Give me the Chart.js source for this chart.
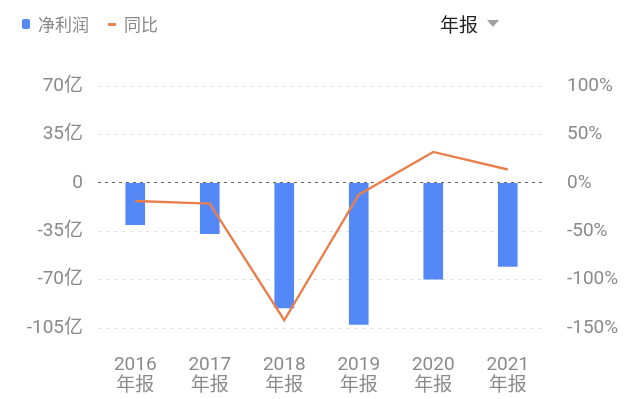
<!DOCTYPE html>
<html>
<head>
<meta charset="utf-8">
<script src="https://cdn.jsdelivr.net/npm/chart.js@4/dist/chart.umd.min.js"></script>
<style>
  html, body { margin: 0; padding: 0; background: #fff; }
  body { width: 640px; height: 399px; position: relative; overflow: hidden;
    font-family: "Noto Sans CJK SC", "Noto Sans", sans-serif; }
  #wrap { position: absolute; left: 0; top: 0; width: 640px; height: 399px; }
  .legend { position: absolute; top: 12px; left: 22px; font-size: 17px; line-height: 24px; color: #8a8a8a; display: flex; align-items: center; }
  .legend .sw-bar { width: 8px; height: 10px; background: #5588f7; border-radius: 2px; margin-right: 8px; }
  .legend .sw-line { width: 8px; height: 3px; background: #e8804e; border-radius: 1px; margin: 0 8px 0 19px; }
  .period { position: absolute; top: 11px; left: 440px; font-size: 19px; line-height: 26px; color: #222; display: flex; align-items: center; }
  .period .tri { width: 0; height: 0; border-left: 6.5px solid transparent; border-right: 6.5px solid transparent;
    border-top: 7px solid #a0a0a0; margin-left: 9px; margin-top: -2px; }
</style>
</head>
<body>
<div id="wrap"><canvas id="chart" width="640" height="399"></canvas></div>
<div class="legend"><span class="sw-bar"></span>净利润<span class="sw-line"></span>同比</div>
<div class="period">年报<span class="tri"></span></div>
<script>
const years = ['2016', '2017', '2018', '2019', '2020', '2021'];
const periodLabel = '年报';
// 净利润 (亿)
const netProfit = [-30.3, -36.8, -90.4, -102.5, -69.7, -60.5];
// 同比 (%)
const yoy = [-18.8, -21.5, -142, -12.2, 31.9, 13.7];
const leftTicks = [70, 35, 0, -35, -70, -105];
const rightTicks = [100, 50, 0, -50, -100, -150];

const tickFont = { family: 'Roboto, "Noto Sans CJK SC", sans-serif', size: 19 };

const ctx = document.getElementById('chart').getContext('2d');
new Chart(ctx, {
  data: {
    labels: years.map((y) => [y, periodLabel]),
    datasets: [
      {
        type: 'line',
        label: '同比',
        data: yoy,
        yAxisID: 'y1',
        borderColor: '#e8804e',
        borderWidth: 2.4,
        pointRadius: 0,
        tension: 0,
        order: 0,
      },
      {
        type: 'bar',
        label: '净利润',
        data: netProfit,
        yAxisID: 'y',
        backgroundColor: '#5588f7',
        barThickness: 19,
        order: 1,
      },
    ],
  },
  options: {
    responsive: false,
    animation: false,
    layout: { padding: { top: 86, bottom: 0, left: 0, right: 0 } },
    plugins: { legend: { display: false }, tooltip: { enabled: false } },
    scales: {
      x: {
        grid: { display: false },
        border: { display: false },
        afterFit: (scale) => { scale.height = 71; },
        ticks: { color: '#8a8a8a', font: { ...tickFont, lineHeight: 1.1 }, padding: 19, maxRotation: 0 },
      },
      y: {
        position: 'left',
        min: leftTicks[leftTicks.length - 1],
        max: leftTicks[0],
        afterBuildTicks: (scale) => { scale.ticks = leftTicks.map((v) => ({ value: v })); },
        afterFit: (scale) => { scale.width = 98; },
        ticks: {
          color: '#8a8a8a',
          font: tickFont,
          padding: 15,
          callback: (v) => (v === 0 ? '0' : v + '亿'),
        },
        grid: {
          drawTicks: false,
          lineWidth: 1,
          color: (c) => (c.tick && c.tick.value === 0 ? '#666666' : '#dddddd'),
        },
        border: {
          display: false,
          dash: (c) => (c.tick && c.tick.value === 0 ? [3, 4] : [3, 5]),
        },
      },
      y1: {
        position: 'right',
        min: rightTicks[rightTicks.length - 1],
        max: rightTicks[0],
        afterBuildTicks: (scale) => { scale.ticks = rightTicks.map((v) => ({ value: v })); },
        afterFit: (scale) => { scale.width = 95; },
        ticks: {
          color: '#8a8a8a',
          font: tickFont,
          padding: 14,
          callback: (v) => v + '%',
        },
        grid: { display: false },
        border: { display: false },
      },
    },
  },
});
</script>
</body>
</html>
